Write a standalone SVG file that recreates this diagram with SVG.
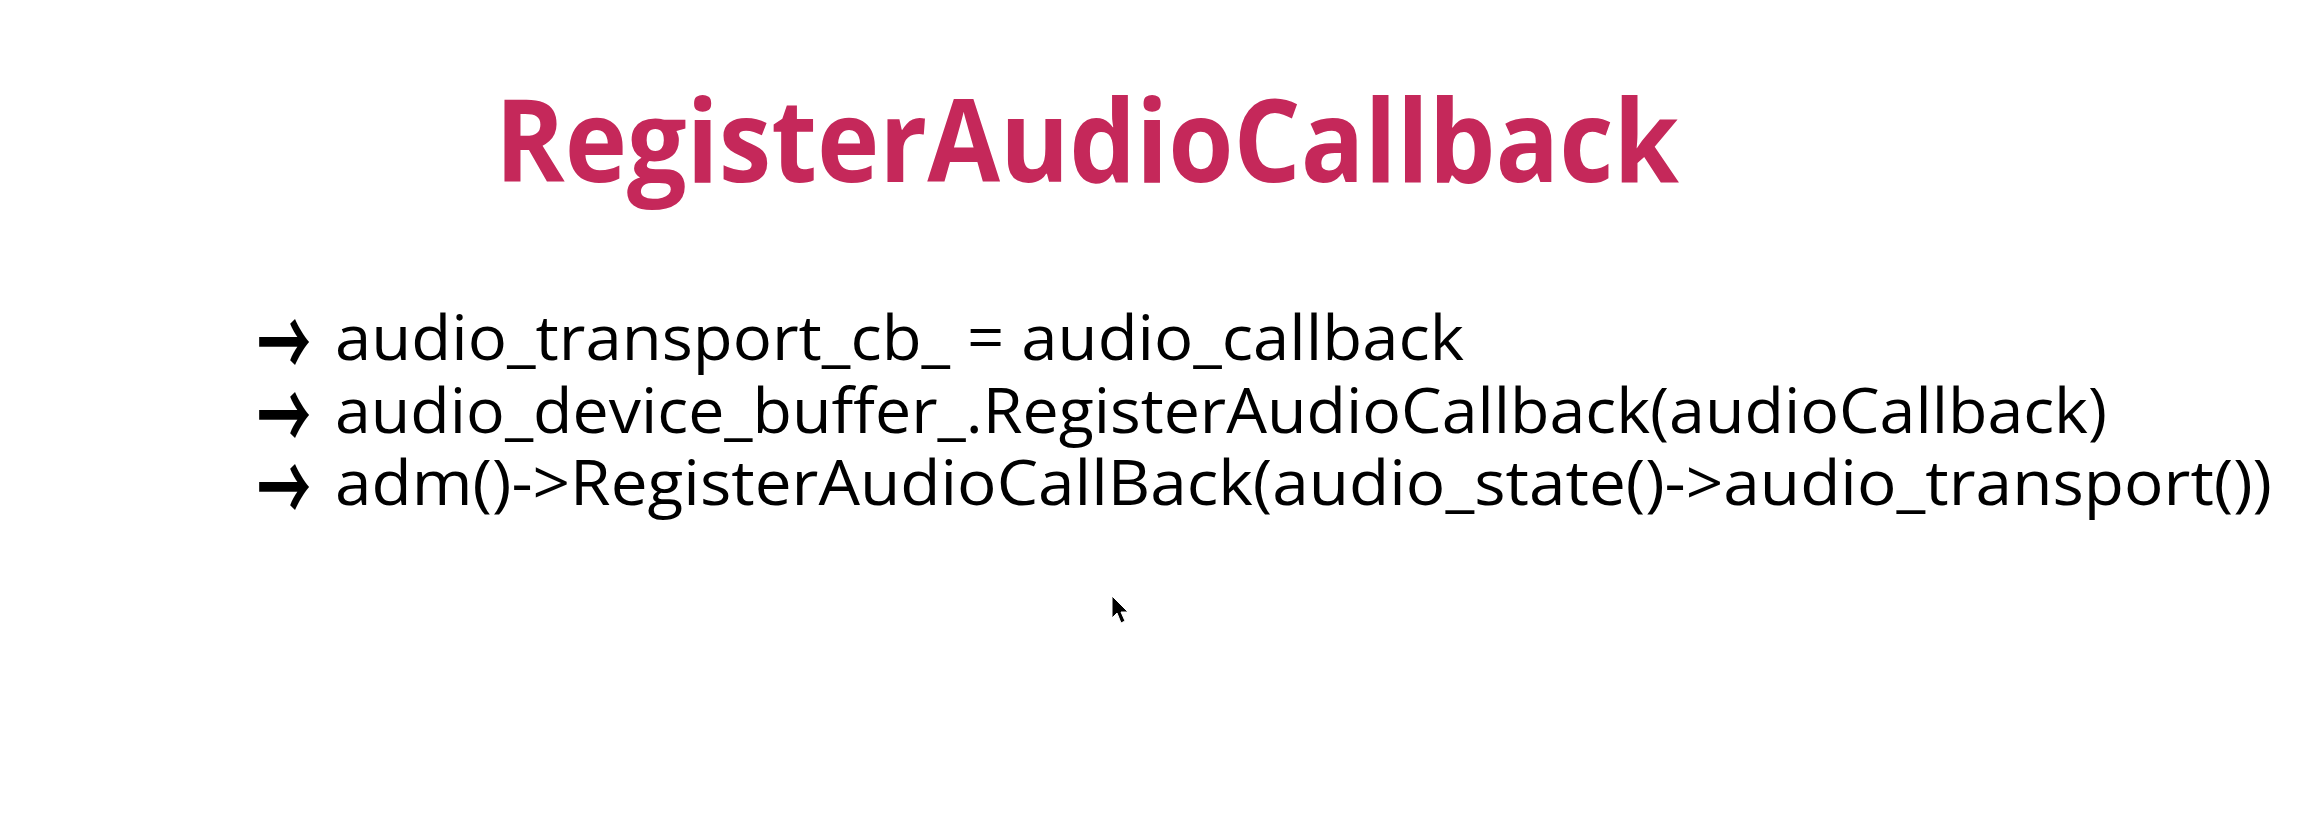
<svg xmlns="http://www.w3.org/2000/svg" width="2308" height="818" viewBox="0 0 2308 818">
  <style>
    .title { font-family: "Open Sans", "Noto Sans", "Liberation Sans", sans-serif; font-weight: 700; font-size: 114px; fill: #C5285A; }
    .line { font-family: "Open Sans", "Noto Sans", "Liberation Sans", sans-serif; font-size: 63px; fill: #000000; }
    .arrow { font-family: "Noto Sans CJK SC", "DejaVu Sans", sans-serif; font-size: 64px; font-weight: 700; fill: #000000; }
  </style>
  <rect x="0" y="0" width="2308" height="818" fill="#FFFFFF"/>
  <g id="title">
    <text class="title" x="495" y="182" textLength="1184" lengthAdjust="spacingAndGlyphs">RegisterAudioCallback</text>
  </g>
  <g id="line1">
    <text class="arrow" x="257" y="371" textLength="54" lengthAdjust="spacingAndGlyphs" transform="matrix(1 0 0 1.5 0 -178.5)">→</text>
    <text class="line" x="335" y="360" textLength="1129" lengthAdjust="spacingAndGlyphs">audio_transport_cb_ = audio_callback</text>
  </g>
  <g id="line2">
    <text class="arrow" x="257" y="444" textLength="54" lengthAdjust="spacingAndGlyphs" transform="matrix(1 0 0 1.5 0 -215)">→</text>
    <text class="line" x="335" y="433" textLength="1772" lengthAdjust="spacingAndGlyphs">audio_device_buffer_.RegisterAudioCallback(audioCallback)</text>
  </g>
  <g id="line3">
    <text class="arrow" x="257" y="516" textLength="54" lengthAdjust="spacingAndGlyphs" transform="matrix(1 0 0 1.5 0 -251)">→</text>
    <text class="line" x="335" y="505" textLength="1937" lengthAdjust="spacingAndGlyphs">adm()-&gt;RegisterAudioCallBack(audio_state()-&gt;audio_transport())</text>
  </g>
  <g id="cursor">
    <polygon points="1112,596 1112,618 1117,613 1121,623 1125,621 1121,612 1128,612" fill="#000000" stroke="#FFFFFF" stroke-width="1"/>
  </g>
</svg>
